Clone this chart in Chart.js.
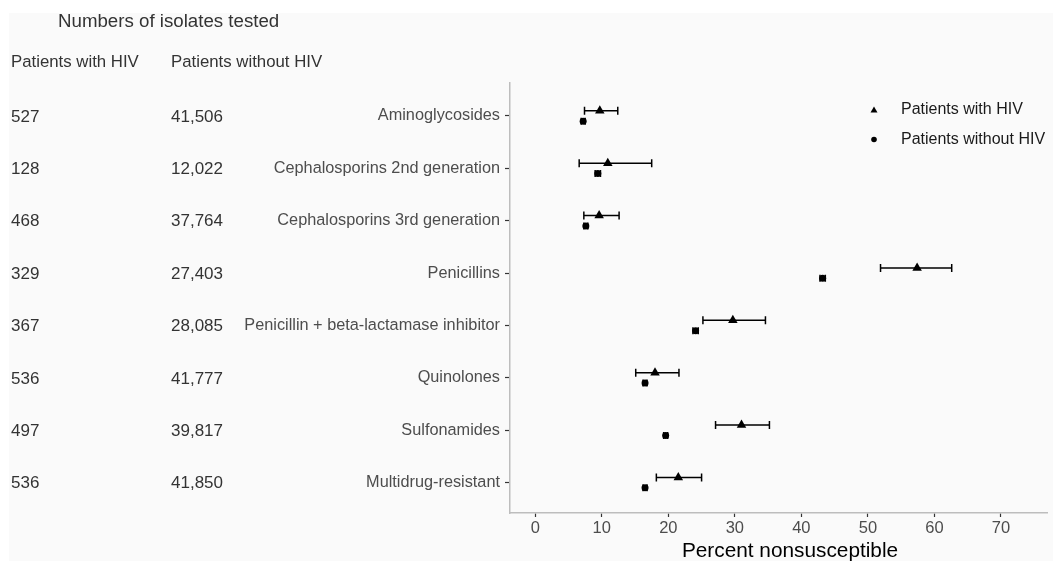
<!DOCTYPE html>
<html>
<head>
<meta charset="utf-8">
<script src="https://cdn.jsdelivr.net/npm/chart.js@4.4.0/dist/chart.umd.min.js"></script>
<style>
  html, body { margin: 0; padding: 0; background: #fafafa; overflow: hidden; width: 100%; height: 100%; }
  #wrap { position: absolute; left: 0; top: 0; width: 100vw; height: 100vh; }
  canvas { display: block; }
</style>
</head>
<body>
<div id="wrap"><canvas id="chart"></canvas></div>
<script>
// chart values
const categories = ['Aminoglycosides', 'Cephalosporins 2nd generation', 'Cephalosporins 3rd generation',
  'Penicillins', 'Penicillin + beta-lactamase inhibitor', 'Quinolones', 'Sulfonamides', 'Multidrug-resistant'];
const hivCounts = ['527', '128', '468', '329', '367', '536', '497', '536'];
const nonHivCounts = ['41,506', '12,022', '37,764', '27,403', '28,085', '41,777', '39,817', '41,850'];

const hivPct = [9.7, 10.9, 9.6, 57.4, 29.7, 18.0, 31.0, 21.5];
const hivLow = [7.4, 6.6, 7.3, 51.9, 25.2, 15.1, 27.1, 18.2];
const hivHigh = [12.4, 17.5, 12.6, 62.6, 34.6, 21.6, 35.2, 25.0];

const nonHivPct = [7.2, 9.4, 7.6, 43.2, 24.1, 16.5, 19.6, 16.5];
const nonHivLow = [6.9, 9.0, 7.3, 42.8, 23.7, 16.2, 19.3, 16.2];
const nonHivHigh = [7.5, 9.8, 7.9, 43.6, 24.5, 16.8, 19.9, 16.8];

const xTicks = [0, 10, 20, 30, 40, 50, 60, 70];

const tableTitle = 'Numbers of isolates tested';
const tableHeaders = ['Patients with HIV', 'Patients without HIV'];
const xTitle = 'Percent nonsusceptible';

const FONT = "'Liberation Sans', Arial, sans-serif";
Chart.defaults.font.family = FONT;

// background: white margin, light grey panel
const background = {
  id: 'background',
  beforeDraw(chart) {
    const ctx = chart.ctx;
    ctx.save();
    ctx.fillStyle = '#ffffff';
    ctx.fillRect(0, 0, chart.width, chart.height);
    ctx.fillStyle = '#fafafa';
    ctx.fillRect(9, 13, chart.width - 9, chart.height - 13);
    ctx.restore();
  }
};

// horizontal confidence interval bars
const errorBars = {
  id: 'errorBars',
  beforeDatasetsDraw(chart) {
    const ctx = chart.ctx;
    const x = chart.scales.x, y = chart.scales.y;
    ctx.save();
    ctx.strokeStyle = '#000';
    ctx.lineWidth = 1.5;
    chart.data.datasets.forEach(ds => {
      ds.data.forEach((p, i) => {
        const py = y.getPixelForValue(p.y);
        const x1 = x.getPixelForValue(ds.errLow[i]);
        const x2 = x.getPixelForValue(ds.errHigh[i]);
        const h = ds.capHalf;
        ctx.beginPath();
        ctx.moveTo(x1, py); ctx.lineTo(x2, py);
        ctx.moveTo(x1, py - h); ctx.lineTo(x1, py + h);
        ctx.moveTo(x2, py - h); ctx.lineTo(x2, py + h);
        ctx.stroke();
      });
    });
    ctx.restore();
  }
};

// left-hand table of counts, x title and the legend
const extras = {
  id: 'extras',
  afterDraw(chart) {
    const ctx = chart.ctx;
    const y = chart.scales.y;
    ctx.save();
    ctx.fillStyle = '#333';
    ctx.textBaseline = 'middle';
    ctx.textAlign = 'left';
    ctx.font = '18.7px ' + FONT;
    ctx.fillText(tableTitle, 58, 22);
    ctx.font = '16.8px ' + FONT;
    ctx.fillText(tableHeaders[0], 11, 62);
    ctx.fillText(tableHeaders[1], 171, 62);
    ctx.font = '17px ' + FONT;
    categories.forEach((c, i) => {
      const py = y.getPixelForValue(i) + 1;
      ctx.fillText(hivCounts[i], 11, py);
      ctx.fillText(nonHivCounts[i], 171, py);
    });

    // axis title
    ctx.fillStyle = '#000';
    ctx.font = '20.8px ' + FONT;
    ctx.textAlign = 'center';
    ctx.textBaseline = 'alphabetic';
    ctx.fillText(xTitle, 790, 557);

    // legend
    ctx.beginPath();
    ctx.moveTo(874, 106.5); ctx.lineTo(877.5, 112.5); ctx.lineTo(870.5, 112.5); ctx.closePath();
    ctx.fill();
    ctx.beginPath();
    ctx.arc(874, 139.5, 2.8, 0, Math.PI * 2);
    ctx.fill();
    ctx.fillStyle = '#1a1a1a';
    ctx.font = '16px ' + FONT;
    ctx.textAlign = 'left';
    ctx.textBaseline = 'middle';
    ctx.fillText(chart.data.datasets[0].label, 901, 110);
    ctx.fillText(chart.data.datasets[1].label, 901, 140);
    ctx.restore();
  }
};

new Chart(document.getElementById('chart'), {
  type: 'scatter',
  data: {
    datasets: [
      {
        label: 'Patients with HIV',
        data: hivPct.map((v, i) => ({ x: v, y: i - 0.1 })),
        errLow: hivLow, errHigh: hivHigh, capHalf: 4,
        pointStyle: 'triangle', pointRadius: 5.5,
        backgroundColor: '#000', borderColor: '#000', borderWidth: 0
      },
      {
        label: 'Patients without HIV',
        data: nonHivPct.map((v, i) => ({ x: v, y: i + 0.1 })),
        errLow: nonHivLow, errHigh: nonHivHigh, capHalf: 3.5,
        pointStyle: 'circle', pointRadius: 3.5,
        backgroundColor: '#000', borderColor: '#000', borderWidth: 0
      }
    ]
  },
  options: {
    responsive: true,
    maintainAspectRatio: false,
    animation: false,
    layout: { padding: { top: 83, left: 0, right: 0, bottom: 0 } },
    plugins: { legend: { display: false }, tooltip: { enabled: false } },
    scales: {
      x: {
        type: 'linear', min: -3.8, max: 77,
        afterBuildTicks: s => { s.ticks = xTicks.map(v => ({ value: v })); },
        afterFit: s => { s.height = 48; },
        ticks: { color: '#4d4d4d', font: { size: 16.5 }, padding: 2 },
        grid: { drawOnChartArea: false, tickLength: 4, tickColor: '#333', tickWidth: 1.2 },
        border: { display: true, color: '#bdbdbd', width: 1.5 }
      },
      y: {
        type: 'linear', reverse: true, min: -0.63, max: 7.58,
        afterBuildTicks: s => { s.ticks = categories.map((c, i) => ({ value: i })); },
        afterFit: s => { s.width = 510; },
        ticks: { color: '#4d4d4d', font: { size: 16.3 }, padding: 5, autoSkip: false, callback: v => categories[v] },
        grid: { drawOnChartArea: false, tickLength: 5, tickColor: '#333', tickWidth: 1.2 },
        border: { display: true, color: '#bdbdbd', width: 1.5 }
      }
    }
  },
  plugins: [background, errorBars, extras]
});
</script>
</body>
</html>
